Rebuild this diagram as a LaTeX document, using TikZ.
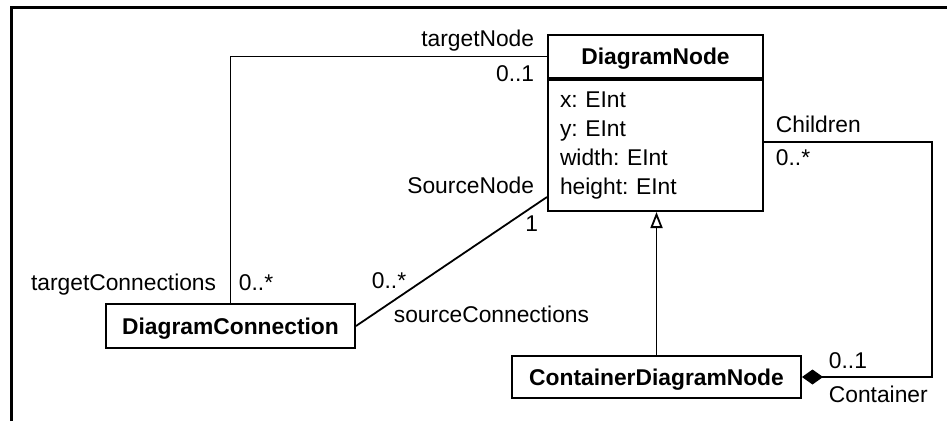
\documentclass[tikz,border=0pt]{standalone}
\usepackage{fontspec}
\setmainfont{Liberation Sans}
\frenchspacing
\usetikzlibrary{arrows.meta,positioning}

\begin{document}
\begin{tikzpicture}[x=1pt,y=-1pt,line width=1.8pt,
  font=\fontsize{22.8}{29}\selectfont]
\useasboundingbox (0,0) rectangle (947,421);
\draw[line width=3pt] (11,421) -- (11,7) -- (947,7);

\begin{scope}[every node/.style={rectangle,draw,line width=2pt,text height=16.5pt,text depth=0pt,font=\fontsize{22.8}{29}\selectfont\bfseries}]
\node[minimum width=215pt,minimum height=43pt] (DN) at (655.5,56.5) {DiagramNode};
\node[minimum width=249pt,minimum height=44pt] (DC) at (230.5,326) {DiagramConnection};
\node[minimum width=289pt,minimum height=42pt] (CDN) at (656.5,377) {ContainerDiagramNode};
\end{scope}
\node[draw,line width=2pt,below=0pt of DN,minimum width=215pt,minimum height=131pt,
  text width=191pt,align=left,inner xsep=12pt] (DNa) {x: EInt\\y: EInt\\width: EInt\\height: EInt};

\begin{scope}[every node/.style={inner sep=0pt}]
\node[anchor=base east] (rTN) at (535,46) {targetNode};
\node[anchor=base east] (mTN) at (535,81) {0..1};
\node[anchor=base east] (rTC) at (217,290) {targetConnections};
\node[anchor=base west] (mTC) at (238,290) {0..*};
\node[anchor=base east] (rSN) at (535,193) {SourceNode};
\node[anchor=base east] (mSN) at (539,231) {1};
\node[anchor=base west] (mSC) at (371,288) {0..*};
\node[anchor=base west] (rSC) at (393,322) {sourceConnections};
\node[anchor=base west] (rCh) at (775,132) {Children};
\node[anchor=base west] (mCh) at (775,165) {0..*};
\node[anchor=base west] (mCo) at (828,368) {0..1};
\node[anchor=base west] (rCo) at (828,402) {Container};
\end{scope}

\coordinate (rail) at (932,0);
\coordinate (chd) at ([yshift=3.5pt]DNa.east);
\draw (DN.west) -| (DC.north);
\draw ([yshift=15pt]DNa.south west) -- (DC.east);
\draw[-{Triangle[open,length=16pt,width=12pt]}] (CDN.north) -- (CDN.north |- DNa.south);
\draw[{Diamond[length=21pt,width=15pt]}-] (CDN.east) -| (rail |- chd) -- (chd);
\end{tikzpicture}
\end{document}
